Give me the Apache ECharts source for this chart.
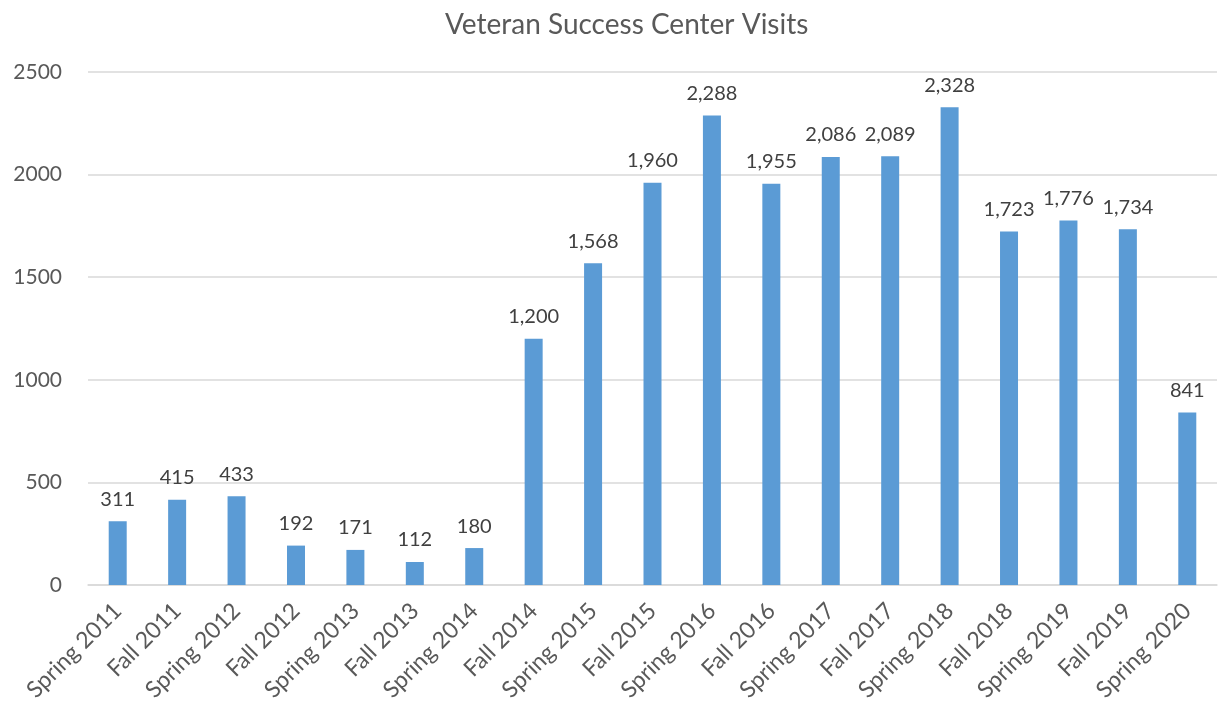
<!DOCTYPE html>
<html>
<head>
    <meta charset="utf-8">
    <title>Veteran Success Center Visits</title>
    <script src="https://cdn.jsdelivr.net/npm/echarts@6/dist/echarts.min.js"></script>
    <style>
        html, body { margin: 0; padding: 0; background: #fff; }
    </style>
</head>
<body>
<div id="main" style="width: 1218px;height:711px;"></div>
<script type="text/javascript">
    var categories = ['Spring 2011', 'Fall 2011', 'Spring 2012', 'Fall 2012', 'Spring 2013',
        'Fall 2013', 'Spring 2014', 'Fall 2014', 'Spring 2015', 'Fall 2015', 'Spring 2016',
        'Fall 2016', 'Spring 2017', 'Fall 2017', 'Spring 2018', 'Fall 2018', 'Spring 2019',
        'Fall 2019', 'Spring 2020'];
    var visits = [311, 415, 433, 192, 171, 112, 180, 1200, 1568, 1960, 2288,
        1955, 2086, 2089, 2328, 1723, 1776, 1734, 841];
    var yTicks = [0, 500, 1000, 1500, 2000, 2500];

    var myChart = echarts.init(document.getElementById('main'));
    var textColor = '#595959';
    var font = 'Lato, "Open Sans", sans-serif';

    var option = {
        animation: false,
        title: {
            text: 'Veteran Success Center Visits',
            left: 440,
            top: 6,
            textStyle: { color: textColor, fontSize: 28, fontWeight: 'normal', fontFamily: font }
        },
        grid: { left: 88, right: 1, top: 72, bottom: 126 },
        xAxis: {
            type: 'category',
            data: categories,
            axisLine: { lineStyle: { color: '#d9d9d9', width: 1.5 } },
            axisTick: { show: false },
            axisLabel: {
                rotate: 45,
                interval: 0,
                margin: 22,
                color: textColor,
                fontSize: 23,
                fontFamily: font
            }
        },
        yAxis: {
            type: 'value',
            min: yTicks[0],
            max: yTicks[yTicks.length - 1],
            interval: 500,
            axisLine: { show: false },
            axisTick: { show: false },
            splitLine: { lineStyle: { color: '#d9d9d9', width: 1.5 } },
            axisLabel: {
                color: textColor,
                fontSize: 21,
                fontFamily: font,
                margin: 26,
                formatter: function (v) { return String(v); }
            }
        },
        series: [{
            type: 'bar',
            data: visits,
            barWidth: 18,
            itemStyle: { color: '#5b9bd5' },
            label: {
                show: true,
                position: 'top',
                distance: 12,
                color: '#404040',
                fontSize: 20,
                fontFamily: font,
                formatter: function (p) {
                    return p.value.toLocaleString('en-US');
                }
            }
        }]
    };

    myChart.setOption(option);
</script>
</body>
</html>
